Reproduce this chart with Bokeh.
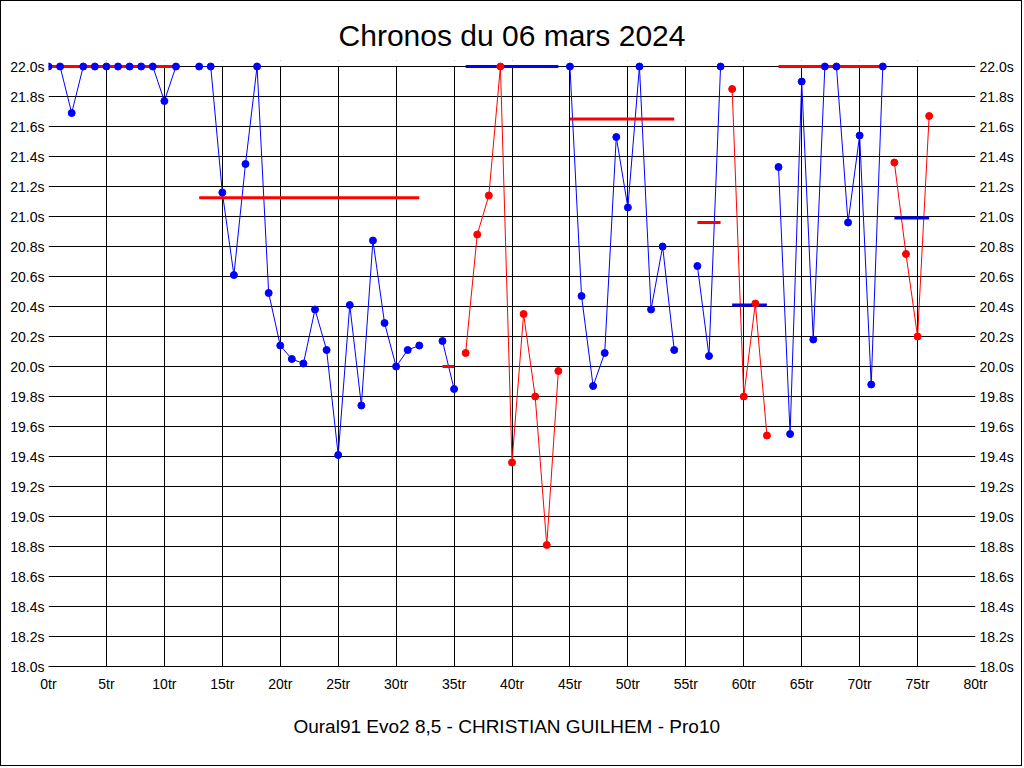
import math
from bokeh.plotting import figure
from bokeh.models import (LinearAxis, SingleIntervalTicker, PrintfTickFormatter,
                          Range1d, Title, ColumnDataSource, BoxAnnotation, InlineStyleSheet)
from bokeh.embed import file_html
from bokeh.resources import INLINE

NaN = float("nan")

# Blue series (laps / chronos), NaN breaks the line
blue_laps = [0, 1, 2, 3, 4, 5, 6, 7, 8, 9, 10, 11, NaN,
             13, 14, 15, 16, 17, 18, 19, 20, 21, 22, 23, 24, 25, 26, 27, 28, 29, 30, 31, 32, NaN,
             34, 35, NaN,
             45, 46, 47, 48, 49, 50, 51, 52, 53, 54, NaN,
             56, 57, 58, NaN,
             63, 64, 65, 66, 67, 68, 69, 70, 71, 72]
blue_times = [22.0, 22.0, 21.69, 22.0, 22.0, 22.0, 22.0, 22.0, 22.0, 22.0, 21.77, 22.0, NaN,
              22.0, 22.0, 21.16, 20.61, 21.35, 22.0, 20.49, 20.14, 20.05, 20.02, 20.38, 20.11,
              19.41, 20.41, 19.74, 20.84, 20.29, 20.0, 20.11, 20.14, NaN,
              20.17, 19.85, NaN,
              22.0, 20.47, 19.87, 20.09, 21.53, 21.06, 22.0, 20.38, 20.8, 20.11, NaN,
              20.67, 20.07, 22.0, NaN,
              21.33, 19.55, 21.9, 20.18, 22.0, 22.0, 20.96, 21.54, 19.88, 22.0]

# Red series
red_laps = [36, 37, 38, 39, 40, 41, 42, 43, 44, NaN,
            59, 60, 61, 62, NaN,
            73, 74, 75, 76]
red_times = [20.09, 20.88, 21.14, 22.0, 19.36, 20.35, 19.8, 18.81, 19.97, NaN,
             21.85, 19.8, 20.42, 19.54, NaN,
             21.36, 20.75, 20.2, 21.67]

# Average bars per stint
avg_start = [0, 13, 34, 36, 45, 56, 59, 63, 73]
avg_end = [11, 32, 35, 44, 54, 58, 62, 72, 76]
avg_value = [22.0, 21.125, 20.0, 22.0, 21.65, 20.96, 20.41, 22.0, 20.99]
avg_series = ["red", "red", "red", "blue", "red", "red", "blue", "red", "blue"]

title_text = "Chronos du 06 mars 2024"
footer_text = "Oural91  Evo2  8,5 - CHRISTIAN GUILHEM - Pro10"

FONT = "Liberation Sans"
Y_MIN, Y_MAX = 18.0, 22.0
X_MIN, X_MAX = 0, 80
TOP_PAD = 0.04  # room so markers at 22.0 are not cut by the frame

p = figure(width=1022, height=766, output_backend="svg", toolbar_location=None,
           x_range=Range1d(X_MIN, X_MAX), y_range=Range1d(Y_MIN, Y_MAX + TOP_PAD),
           min_border_left=47, min_border_right=48, min_border_top=59, min_border_bottom=101,
           background_fill_color="white", border_fill_color="white")
p.styles = {"border": "1px solid black"}
p.stylesheets = [InlineStyleSheet(css="text { white-space: pre; }")]

p.title.text = title_text
p.title.align = "center"
p.title.text_font = FONT
p.title.text_font_size = "30px"
p.title.text_font_style = "normal"
p.title.text_color = "black"
p.title.standoff = 18

foot = Title(text=footer_text, align="center", text_font=FONT, text_font_size="19px",
             text_font_style="normal", text_color="black", standoff=39)
p.add_layout(foot, "below")

p.outline_line_color = None

xt = SingleIntervalTicker(interval=5, num_minor_ticks=0)
yt = SingleIntervalTicker(interval=0.2, num_minor_ticks=0)

p.xaxis.ticker = xt
p.yaxis.ticker = yt
p.xaxis.formatter = PrintfTickFormatter(format="%dtr")
p.yaxis.formatter = PrintfTickFormatter(format="%.1fs")

ra = LinearAxis(ticker=yt, formatter=PrintfTickFormatter(format="%.1fs"))
p.add_layout(ra, "right")

for ax in [p.xaxis[0], p.yaxis[0], ra]:
    ax.major_tick_out = 0
    ax.major_tick_in = 0
    ax.minor_tick_out = 0
    ax.minor_tick_in = 0
    ax.major_label_text_font = FONT
    ax.major_label_text_font_size = "14px"
    ax.major_label_text_color = "black"
    ax.major_label_standoff = 4
p.xaxis[0].axis_line_color = "black"
p.xaxis[0].major_label_standoff = 9
p.yaxis[0].axis_line_color = None
ra.axis_line_color = None

p.xgrid.ticker = xt
p.ygrid.ticker = yt
for g in (p.xgrid[0], p.ygrid[0]):
    g.grid_line_color = "black"
    g.grid_line_alpha = 1
    g.grid_line_width = 1

# white cover above the 22.0s line (hides grid stubs in the padding)
cover = BoxAnnotation(bottom=Y_MAX + 0.5 / 150, fill_color="white", fill_alpha=1,
                      line_color=None, level="underlay")
p.add_layout(cover)

# lines
p.line(blue_laps, blue_times, line_color="blue", line_width=1)
p.line(red_laps, red_times, line_color="red", line_width=1)

# averages
src = ColumnDataSource(dict(x0=avg_start, x1=avg_end, y=avg_value, c=avg_series))
p.segment(x0="x0", y0="y", x1="x1", y1="y", line_color="c", line_width=3, source=src)

# markers
bl = [(x, y) for x, y in zip(blue_laps, blue_times) if not math.isnan(x)]
rl = [(x, y) for x, y in zip(red_laps, red_times) if not math.isnan(x)]
p.scatter([a for a, _ in bl], [b for _, b in bl], size=7, color="blue")
p.scatter([a for a, _ in rl], [b for _, b in rl], size=7, color="red")

open("out.html", "w").write(file_html(p, INLINE))
